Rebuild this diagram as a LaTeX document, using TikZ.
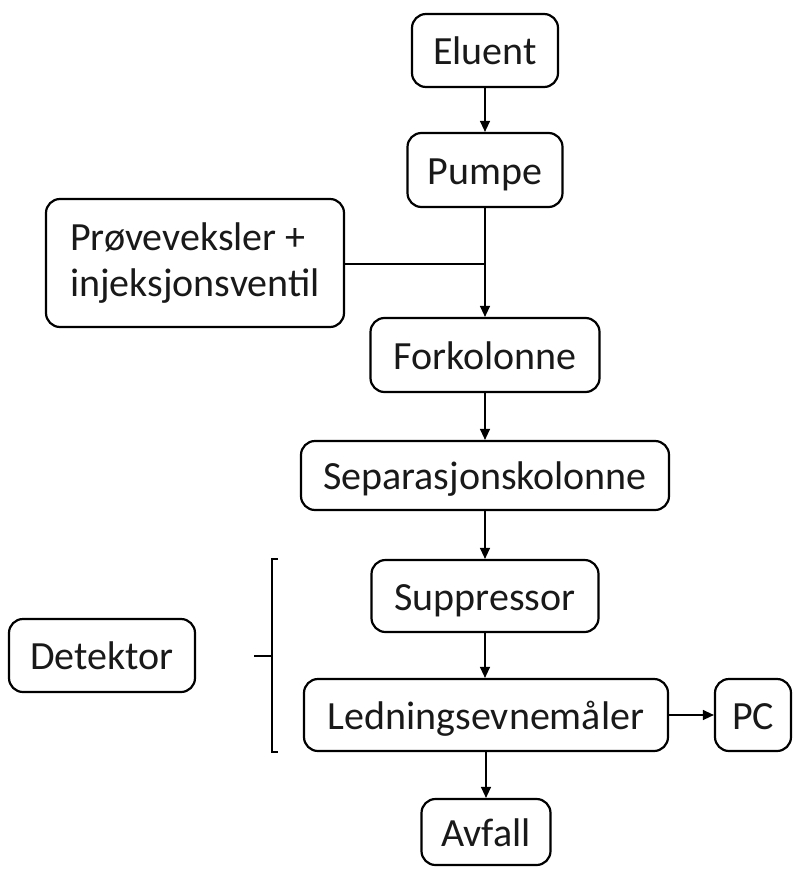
\documentclass[tikz,border=0pt]{standalone}
\usepackage{fontspec}
\setmainfont{Carlito}
\usetikzlibrary{arrows.meta}
\begin{document}
\begin{tikzpicture}[x=1pt,y=-1pt,
  box/.style={draw=black, line width=2.2pt, rounded corners=14pt, inner sep=0pt,
    font=\fontsize{40}{46}\selectfont, text=black!90},
  onel/.style={text height=28pt, text depth=0pt},
  conn/.style={line width=1.3pt, -{Triangle[length=11pt,width=10pt]}},
  plain/.style={line width=1.3pt}]
\useasboundingbox (0,0) rectangle (793,870);
\node[box, onel, minimum width=146pt, minimum height=73pt] (eluent) at (485,50.5) {Eluent};
\node[box, onel, minimum width=155pt, minimum height=74pt] (pumpe) at (485,170) {Pumpe};
\node[box, minimum width=298pt, minimum height=128pt, align=left] (prove) at (195,263) {Prøveveksler +\\injeksjonsventil};
\node[box, onel, minimum width=229pt, minimum height=74pt] (fork) at (485,355) {Forkolonne};
\node[box, onel, minimum width=368pt, minimum height=69pt] (sep) at (485,475.5) {Separasjonskolonne};
\node[box, onel, minimum width=227pt, minimum height=72pt] (supp) at (485,596) {Suppressor};
\node[box, onel, minimum width=186pt, minimum height=73pt] (det) at (102,655.5) {Detektor};
\node[box, onel, minimum width=364pt, minimum height=72pt] (led) at (486,715) {Ledningsevnemåler};
\node[box, onel, minimum width=76pt, minimum height=72pt] (pc) at (753,715) {PC};
\node[box, onel, minimum width=129pt, minimum height=66pt] (avfall) at (486,832) {Avfall};
\coordinate (j) at (485,264);
\draw[conn] (eluent) -- (pumpe);
\draw[plain] (pumpe) -- (j);
\draw[plain] (prove.east |- j) -- (j);
\draw[conn] (j) -- (fork);
\draw[conn] (fork) -- (sep);
\draw[conn] (sep) -- (supp);
\draw[conn] (supp) -- (supp |- led.north);
\draw[conn] (led.east) -- (pc.west |- led.east);
\draw[conn] (led.south -| avfall) -- (avfall);
% bracket
\coordinate (bt) at (272,559);
\coordinate (bb) at (272,752);
\coordinate (bm) at (272,656);
\coordinate (bl) at (254,656);
\draw[line width=1.8pt] ([xshift=6pt]bt) -- (bt) -- (bb) -- ([xshift=6pt]bb);
\draw[line width=1.8pt] (bl) -- (bm);
\end{tikzpicture}
\end{document}
